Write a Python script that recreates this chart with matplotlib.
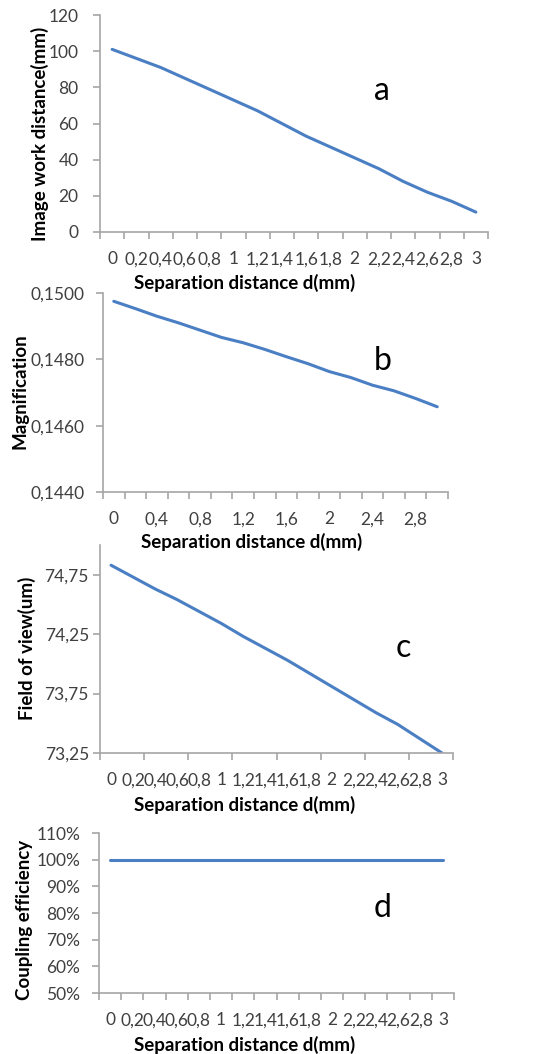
import numpy as np
import matplotlib
matplotlib.use("Agg")
import matplotlib.pyplot as plt
from matplotlib.ticker import FixedLocator, FuncFormatter

plt.rcParams['font.family'] = ['Lato', 'DejaVu Sans']

# ---- data ----
d_labels = ["0", "0,2", "0,4", "0,6", "0,8", "1", "1,2", "1,4", "1,6", "1,8",
            "2", "2,2", "2,4", "2,6", "2,8", "3"]
image_work_distance = [101, 96, 91, 85, 79, 73, 67, 60, 53, 47, 41, 35, 28, 22, 17, 11]
magnification = [0.14975, 0.14953, 0.14930, 0.14910, 0.14888, 0.14866, 0.14850, 0.14830,
                 0.14808, 0.14787, 0.14763, 0.14745, 0.14722, 0.14705, 0.14682, 0.14657]
field_of_view = [74.83, 74.73, 74.63, 74.54, 74.44, 74.34, 74.23, 74.13,
                 74.03, 73.92, 73.81, 73.70, 73.59, 73.49, 73.37, 73.25]
coupling_efficiency = [1.0] * 16

panel_letters = ["a", "b", "c", "d"]
y_titles = ["Image work distance(mm)", "Magnification", "Field of view(um)", "Coupling efficiency"]
x_title = "Separation distance d(mm)"

W, H = 556, 1054
fig = plt.figure(figsize=(W / 100, H / 100), dpi=100)

LINE = "#4A7FC4"
SPINE = "#A6A6A6"
TICKC = "#404040"
TFS = 12.5
LFS = 13.5
PFS = 23
LW = 2.2


def rect(l, t, r, b):
    return [l / W, 1 - b / H, (r - l) / W, (b - t) / H]


def style(ax, tick_every, label_every, ypad):
    n = len(d_labels)
    x = np.arange(n)
    ax.set_xlim(-0.5, n - 0.5)
    for s in ["top", "right"]:
        ax.spines[s].set_visible(False)
    for s in ["left", "bottom"]:
        ax.spines[s].set_color(SPINE)
        ax.spines[s].set_linewidth(1.2)
    ax.xaxis.set_major_locator(FixedLocator(np.arange(-0.5, n, tick_every)))
    ax.xaxis.set_major_formatter(FuncFormatter(lambda v, p: ""))
    ax.xaxis.set_minor_locator(FixedLocator(x[::label_every]))
    lab = d_labels[::label_every]
    ax.xaxis.set_minor_formatter(FuncFormatter(lambda v, p: lab[p] if p is not None and p < len(lab) else ""))
    ax.tick_params(axis="x", which="major", length=5, color=SPINE, width=1.2)
    ax.tick_params(axis="x", which="minor", length=0, labelsize=TFS, labelcolor=TICKC, pad=14)
    ax.tick_params(axis="y", which="major", length=5, color=SPINE, width=1.2,
                   labelsize=TFS, labelcolor=TICKC, pad=ypad)
    return x


def ftext(x, y, s, **kw):
    fig.text(x / W, 1 - y / H, s, ha="center", va="center", **kw)


# panel a
ax = fig.add_axes(rect(100, 15, 488, 232))
x = style(ax, 1, 1, 10.5)
ax.plot(x, image_work_distance, color=LINE, lw=LW, solid_capstyle="round")
ax.set_ylim(0, 120)
ax.set_yticks(np.arange(0, 121, 20))
ftext(382, 91, panel_letters[0], fontsize=PFS)
ftext(40, 134, y_titles[0], rotation=90, fontsize=LFS, fontweight="bold")
ftext(245, 283, x_title, fontsize=LFS, fontweight="bold")

# panel b
ax = fig.add_axes(rect(103, 293, 448, 492))
x = style(ax, 1, 2, 8)
ax.plot(x, magnification, color=LINE, lw=LW, solid_capstyle="round")
ax.set_ylim(0.144, 0.150)
ax.set_yticks([0.144, 0.146, 0.148, 0.150])
ax.yaxis.set_major_formatter(FuncFormatter(lambda v, p: f"{v:.4f}".replace(".", ",")))
ftext(383, 361, panel_letters[1], fontsize=PFS)
ftext(20, 391, y_titles[1], rotation=90, fontsize=LFS, fontweight="bold")
ftext(252, 542, x_title, fontsize=LFS, fontweight="bold")

# panel c
ax = fig.add_axes(rect(100, 545, 453, 753))
x = style(ax, 2, 1, 3)
ax.plot(x, field_of_view, color=LINE, lw=LW, solid_capstyle="round")
ax.set_ylim(73.25, 75.0)
ax.set_yticks([73.25, 73.75, 74.25, 74.75])
ax.yaxis.set_major_formatter(FuncFormatter(lambda v, p: f"{v:.2f}".replace(".", ",")))
ftext(403, 648, panel_letters[2], fontsize=PFS)
ftext(27, 648, y_titles[2], rotation=90, fontsize=LFS, fontweight="bold")
ftext(245, 805, x_title, fontsize=LFS, fontweight="bold")

# panel d
ax = fig.add_axes(rect(99, 833, 454, 993))
x = style(ax, 1, 1, 8.5)
ax.plot(x, coupling_efficiency, color=LINE, lw=LW, solid_capstyle="round")
ax.set_ylim(0.5, 1.1)
ax.set_yticks(np.arange(0.5, 1.101, 0.1))
ax.yaxis.set_major_formatter(FuncFormatter(lambda v, p: f"{v * 100:.0f}%"))
ftext(383, 908, panel_letters[3], fontsize=PFS)
ftext(25, 920, y_titles[3], rotation=90, fontsize=LFS, fontweight="bold")
ftext(245, 1045, x_title, fontsize=LFS, fontweight="bold")

fig.savefig("out.png", dpi=100)
